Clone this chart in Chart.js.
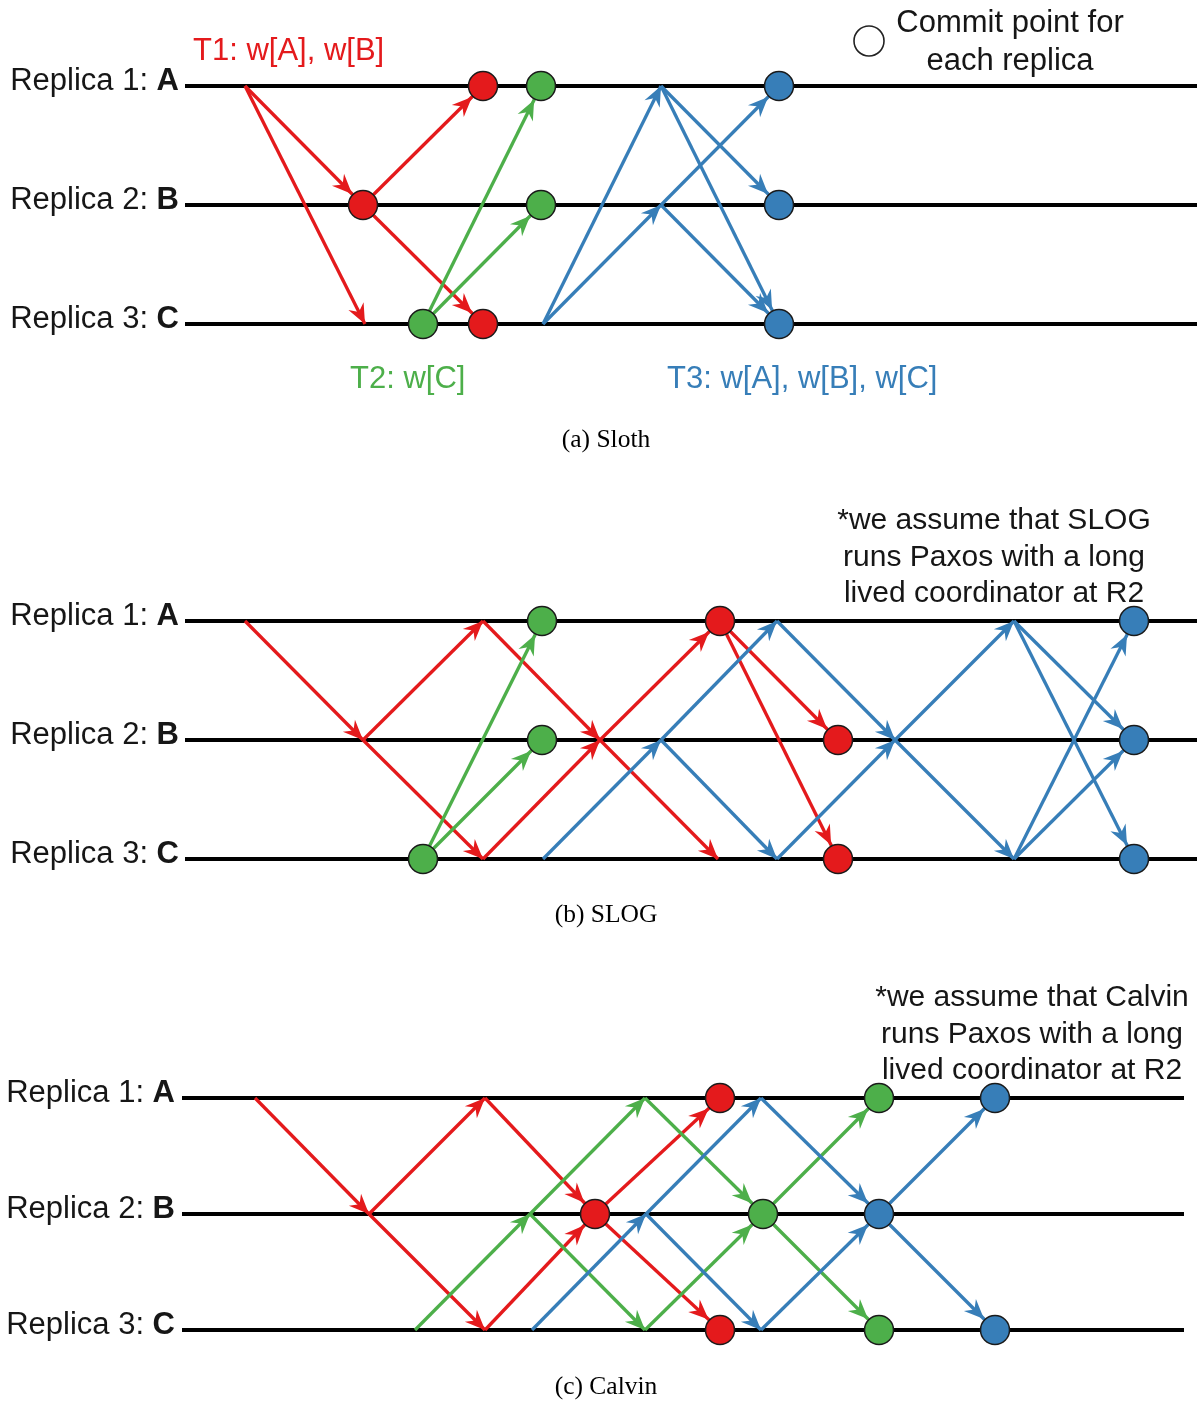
<!DOCTYPE html>
<html>
<head>
<meta charset="utf-8">
<title>Sloth / SLOG / Calvin</title>
<script src="https://cdn.jsdelivr.net/npm/chart.js@4.4.1/dist/chart.umd.min.js"></script>
<style>
  body { margin: 0; background: #fff; }
  canvas { position: absolute; left: 0; display: block; }
</style>
</head>
<body>
<canvas id="sloth" width="1204" height="460" style="top:0px"></canvas>
<canvas id="slog" width="1204" height="480" style="top:460px"></canvas>
<canvas id="calvin" width="1204" height="461" style="top:940px"></canvas>
<script>
// replicas (rows)
const replicaRows = [1, 2, 3];
const replicaNames = ['Replica 1: ', 'Replica 2: ', 'Replica 3: '];
const replicaKeys = ['A', 'B', 'C'];

// messages: [from time, from replica, to time, to replica]
// commits: [time, replica]

// (a) Sloth
const slothSpan = [185, 1197];
const slothT1 = [[245, 1, 363, 2], [245, 1, 365, 3], [363, 2, 483, 1], [363, 2, 483, 3]];
const slothT1Commits = [[363, 2], [483, 1], [483, 3]];
const slothT2 = [[423, 3, 541, 1], [423, 3, 541, 2]];
const slothT2Commits = [[423, 3], [541, 1], [541, 2]];
const slothT3 = [[543, 3, 661, 1], [543, 3, 661, 2], [661, 1, 779, 2], [661, 1, 779, 3],
                 [661, 2, 779, 1], [661, 2, 779, 3]];
const slothT3Commits = [[779, 1], [779, 2], [779, 3]];

// (b) SLOG
const slogSpan = [185, 1197];
const slogT1 = [[245, 1, 363, 2], [363, 2, 483, 1], [363, 2, 483, 3], [483, 1, 600, 2], [483, 3, 600, 2],
                [600, 2, 720, 1], [600, 2, 718, 3], [720, 1, 838, 2], [720, 1, 838, 3]];
const slogT1Commits = [[720, 1], [838, 2], [838, 3]];
const slogT2 = [[423, 3, 542, 1], [423, 3, 542, 2]];
const slogT2Commits = [[423, 3], [542, 1], [542, 2]];
const slogT3 = [[543, 3, 661, 2], [661, 2, 777, 1], [661, 2, 777, 3], [777, 1, 895, 2], [777, 3, 895, 2],
                [895, 2, 1014, 1], [895, 2, 1014, 3], [1014, 1, 1134, 2], [1014, 1, 1134, 3],
                [1014, 3, 1134, 1], [1014, 3, 1134, 2]];
const slogT3Commits = [[1134, 1], [1134, 2], [1134, 3]];

// (c) Calvin
const calvinSpan = [182, 1184];
const calvinT1 = [[255, 1, 369, 2], [369, 2, 485, 1], [369, 2, 485, 3], [485, 1, 595, 2], [485, 3, 595, 2],
                  [595, 2, 720, 1], [595, 2, 720, 3]];
const calvinT1Commits = [[595, 2], [720, 1], [720, 3]];
const calvinT2 = [[415, 3, 530, 2], [530, 2, 645, 1], [530, 2, 645, 3], [645, 1, 763, 2], [645, 3, 763, 2],
                  [763, 2, 879, 1], [763, 2, 879, 3]];
const calvinT2Commits = [[763, 2], [879, 1], [879, 3]];
const calvinT3 = [[532, 3, 646, 2], [646, 2, 761, 1], [646, 2, 761, 3], [761, 1, 879, 2], [761, 3, 879, 2],
                  [879, 2, 995, 1], [879, 2, 995, 3]];
const calvinT3Commits = [[879, 2], [995, 1], [995, 3]];

const RED = '#e41a1c';
const GREEN = '#4daf4a';
const BLUE = '#377eb8';
const DOT_R = 14.5;
const SANS = '"Liberation Sans", Arial, sans-serif';
const SERIF = '"Liberation Serif", "Times New Roman", serif';

// arrow heads drawn at the end of every message line
const arrowHeads = {
  id: 'arrowHeads',
  afterDatasetDraw(chart, args) {
    const ds = chart.data.datasets[args.index];
    if (!ds.arrow) return;
    const pts = args.meta.data;
    const x0 = pts[0].x, y0 = pts[0].y, x1 = pts[1].x, y1 = pts[1].y;
    const len = Math.hypot(x1 - x0, y1 - y0);
    const dx = (x1 - x0) / len, dy = (y1 - y0) / len;
    const back = ds.arrow.dot ? DOT_R + 1 : 0;
    const tx = x1 - dx * back, ty = y1 - dy * back;
    const L = 20, W = 8.5, N = 6.5;
    const ctx = chart.ctx;
    ctx.save();
    ctx.fillStyle = ds.arrow.color;
    ctx.beginPath();
    ctx.moveTo(tx, ty);
    ctx.lineTo(tx - dx * L - dy * W, ty - dy * L + dx * W);
    ctx.lineTo(tx - dx * (L - N), ty - dy * (L - N));
    ctx.lineTo(tx - dx * L + dy * W, ty - dy * L - dx * W);
    ctx.closePath();
    ctx.fill();
    ctx.restore();
  }
};

// labels, captions and notes
const panelText = {
  id: 'panelText',
  afterDraw(chart, args, opts) {
    const ctx = chart.ctx;
    const yScale = chart.scales.y;
    ctx.save();
    ctx.textBaseline = 'alphabetic';
    ctx.fillStyle = '#161616';
    replicaRows.forEach((r, i) => {
      const y = yScale.getPixelForValue(r) + 4;
      ctx.font = '31px ' + SANS;
      const w1 = ctx.measureText(replicaNames[i]).width;
      ctx.font = 'bold 31px ' + SANS;
      const w2 = ctx.measureText(replicaKeys[i]).width;
      const x = opts.labelRight - w1 - w2;
      ctx.font = '31px ' + SANS;
      ctx.textAlign = 'left';
      ctx.fillText(replicaNames[i], x, y);
      ctx.font = 'bold 31px ' + SANS;
      ctx.fillText(replicaKeys[i], x + w1, y);
    });
    (opts.texts || []).forEach(t => {
      ctx.font = (t.size || 30) + 'px ' + SANS;
      ctx.fillStyle = t.color || '#161616';
      ctx.textAlign = t.align || 'left';
      t.lines.forEach((line, k) => ctx.fillText(line, t.x, t.y - opts.top + k * (t.lh || 36.5)));
    });
    if (opts.legendDot) {
      ctx.beginPath();
      ctx.arc(opts.legendDot[0], opts.legendDot[1] - opts.top, 15, 0, Math.PI * 2);
      ctx.fillStyle = '#fff';
      ctx.fill();
      ctx.lineWidth = 1.6;
      ctx.strokeStyle = '#222';
      ctx.stroke();
    }
    ctx.font = '25.5px ' + SERIF;
    ctx.fillStyle = '#000';
    ctx.textAlign = 'center';
    ctx.fillText(opts.caption, 606, opts.captionY - opts.top);
    ctx.restore();
  }
};

function buildDatasets(span, txns) {
  const datasets = [];
  txns.forEach(t => {
    datasets.push({
      data: t.commits.map(c => ({ x: c[0], y: c[1] })),
      pointRadius: DOT_R,
      pointHoverRadius: DOT_R,
      backgroundColor: t.color,
      borderColor: '#1a1a1a',
      borderWidth: 1.5,
      order: 0,
      clip: false
    });
    t.msgs.forEach(m => {
      const dot = t.commits.some(c => c[0] === m[2] && c[1] === m[3]);
      datasets.push({
        data: [{ x: m[0], y: m[1] }, { x: m[2], y: m[3] }],
        showLine: true,
        borderColor: t.color,
        borderWidth: 3.3,
        pointRadius: 0,
        order: 1,
        clip: false,
        arrow: { color: t.color, dot: dot }
      });
    });
  });
  replicaRows.forEach(r => {
    datasets.push({
      data: [{ x: span[0], y: r }, { x: span[1], y: r }],
      showLine: true,
      borderColor: '#000',
      borderWidth: 4,
      pointRadius: 0,
      order: 2,
      clip: false
    });
  });
  return datasets;
}

function makePanel(id, top, height, rowsY, span, txns, textOpts) {
  const canvas = document.getElementById(id);
  new Chart(canvas, {
    type: 'scatter',
    data: { datasets: buildDatasets(span, txns) },
    options: {
      responsive: false,
      animation: false,
      events: [],
      layout: {
        autoPadding: false,
        padding: { left: 0, right: 0, top: rowsY[0] - top, bottom: top + height - rowsY[1] }
      },
      scales: {
        x: { type: 'linear', min: 0, max: 1204, display: false },
        y: { type: 'linear', min: 1, max: 3, reverse: true, display: false }
      },
      plugins: {
        legend: { display: false },
        tooltip: { enabled: false },
        panelText: Object.assign({ top: top }, textOpts)
      }
    },
    plugins: [arrowHeads, panelText]
  });
}

makePanel('sloth', 0, 460, [86, 324], slothSpan, [
  { msgs: slothT3, commits: slothT3Commits, color: BLUE },
  { msgs: slothT2, commits: slothT2Commits, color: GREEN },
  { msgs: slothT1, commits: slothT1Commits, color: RED }
], {
  labelRight: 179,
  caption: '(a) Sloth',
  captionY: 447,
  legendDot: [869, 41],
  texts: [
    { lines: ['T1: w[A], w[B]'], x: 193, y: 60, color: RED, size: 31 },
    { lines: ['T2: w[C]'], x: 350, y: 388, color: GREEN, size: 31 },
    { lines: ['T3: w[A], w[B], w[C]'], x: 667, y: 388, color: BLUE, size: 31 },
    { lines: ['Commit point for', 'each replica'], x: 1010, y: 32, align: 'center', lh: 38, size: 31 }
  ]
});

makePanel('slog', 460, 480, [621, 859], slogSpan, [
  { msgs: slogT3, commits: slogT3Commits, color: BLUE },
  { msgs: slogT2, commits: slogT2Commits, color: GREEN },
  { msgs: slogT1, commits: slogT1Commits, color: RED }
], {
  labelRight: 179,
  caption: '(b) SLOG',
  captionY: 922,
  texts: [
    { lines: ['*we assume that SLOG', 'runs Paxos with a long', 'lived coordinator at R2'],
      x: 994, y: 529, align: 'center' }
  ]
});

makePanel('calvin', 940, 461, [1098, 1330], calvinSpan, [
  { msgs: calvinT3, commits: calvinT3Commits, color: BLUE },
  { msgs: calvinT2, commits: calvinT2Commits, color: GREEN },
  { msgs: calvinT1, commits: calvinT1Commits, color: RED }
], {
  labelRight: 175,
  caption: '(c) Calvin',
  captionY: 1394,
  texts: [
    { lines: ['*we assume that Calvin', 'runs Paxos with a long', 'lived coordinator at R2'],
      x: 1032, y: 1006, align: 'center' }
  ]
});
</script>
</body>
</html>
